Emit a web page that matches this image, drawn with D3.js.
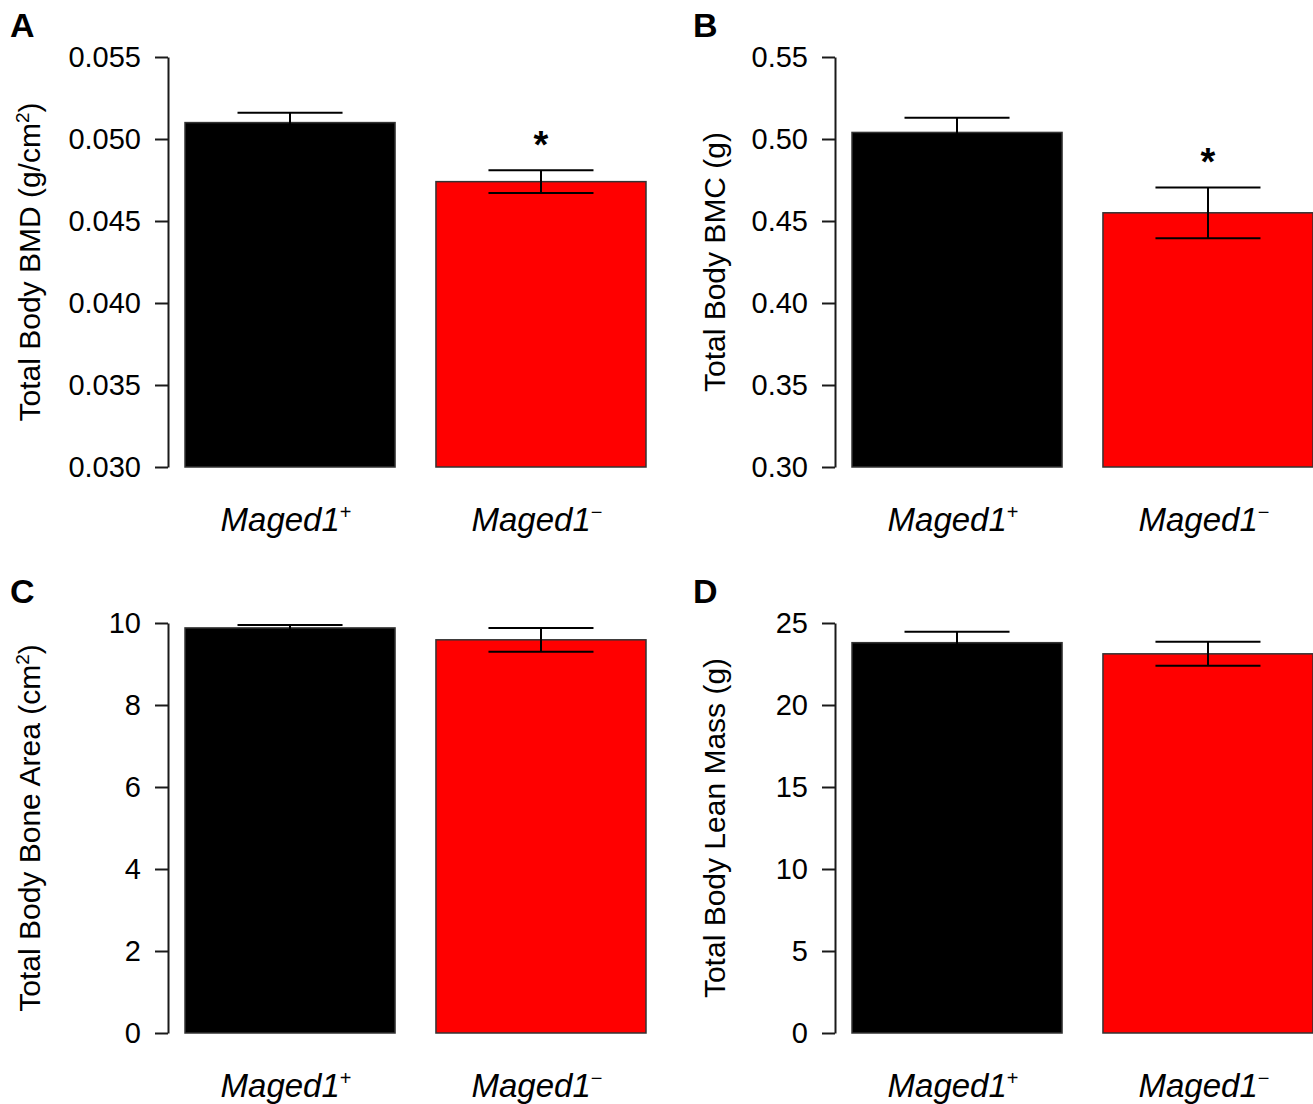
<!DOCTYPE html>
<html>
<head>
<meta charset="utf-8">
<script src="https://cdn.jsdelivr.net/npm/d3@7"></script>
<style>
  body { margin: 0; background: #fff; }
  svg { font-family: "Liberation Sans", Arial, Helvetica, sans-serif; }
</style>
</head>
<body>
<svg id="fig" width="1313" height="1104"></svg>
<script>
// groups (same for every panel)
const groups = ["Maged1+", "Maged1-"];
const groupSup = ["+", "\u2212"];
const groupColors = ["#000000", "#ff0000"];

// panel values
const panelLetters = ["A", "B", "C", "D"];
const yTitles = ["Total Body BMD (g/cm", "Total Body BMC (g)", "Total Body Bone Area (cm", "Total Body Lean Mass (g)"];
const yTitleSup = ["2", "", "2", ""];
const yTitleTail = [")", "", ")", ""];
const yDomains = [[0.030, 0.055], [0.30, 0.55], [0, 10], [0, 25]];
const yTicks = [
  [0.030, 0.035, 0.040, 0.045, 0.050, 0.055],
  [0.30, 0.35, 0.40, 0.45, 0.50, 0.55],
  [0, 2, 4, 6, 8, 10],
  [0, 5, 10, 15, 20, 25]
];
const tickFormats = [".3f", ".2f", "d", "d"];
const meansPlus = [0.0510, 0.504, 9.88, 23.8];
const meansMinus = [0.0474, 0.455, 9.59, 23.12];
const sePlus = [0.0006, 0.009, 0.07, 0.67];
const seMinus = [0.0007, 0.0155, 0.29, 0.73];
const signif = [true, true, false, false]; // asterisk on the Maged1- bar

const svg = d3.select("#fig");
const axisX = [168, 835, 168, 835];
const topY = [57, 57, 623, 623];
const titleX = [40, 725, 40, 725];
const plotH = 410;

panelLetters.forEach((letter, i) => {
  const g = svg.append("g").attr("transform", `translate(${axisX[i]},${topY[i]})`);

  const y = d3.scaleLinear().domain(yDomains[i]).range([plotH, 0]);
  const x = d3.scaleBand().domain(groups).range([17, 478]).paddingInner(0.163);

  // y axis
  const yAxis = d3.axisLeft(y).tickValues(yTicks[i]).tickFormat(d3.format(tickFormats[i]))
    .tickSizeInner(13).tickSizeOuter(0).tickPadding(14);
  const ax = g.append("g").call(yAxis);
  ax.select(".domain").attr("stroke", "#1a1a1a").attr("stroke-width", 2);
  ax.selectAll(".tick line").attr("stroke", "#1a1a1a").attr("stroke-width", 2);
  ax.selectAll(".tick text").attr("font-size", 29).attr("fill", "#000")
    .attr("font-family", "'Liberation Sans', Arial, sans-serif");

  const means = [meansPlus[i], meansMinus[i]];
  const ses = [sePlus[i], seMinus[i]];

  // bars
  g.selectAll("rect.bar").data(groups).join("rect")
    .attr("class", "bar")
    .attr("x", d => x(d))
    .attr("width", x.bandwidth())
    .attr("y", (d, k) => y(means[k]))
    .attr("height", (d, k) => plotH - y(means[k]))
    .attr("fill", (d, k) => groupColors[k])
    .attr("stroke", "#333")
    .attr("stroke-width", 1.5);

  // error bars
  const capW = x.bandwidth() / 2;
  groups.forEach((grp, k) => {
    const cx = x(grp) + x.bandwidth() / 2;
    const hi = y(means[k] + ses[k]);
    const lo = y(means[k] - ses[k]);
    const eg = g.append("g").attr("stroke", "#000").attr("stroke-width", 2);
    eg.append("line").attr("x1", cx).attr("x2", cx).attr("y1", hi).attr("y2", lo);
    eg.append("line").attr("x1", cx - capW / 2).attr("x2", cx + capW / 2).attr("y1", hi).attr("y2", hi);
    eg.append("line").attr("x1", cx - capW / 2).attr("x2", cx + capW / 2).attr("y1", lo).attr("y2", lo);
    if (k === 1 && signif[i]) {
      g.append("text").attr("x", cx).attr("y", hi - 12)
        .attr("text-anchor", "middle").attr("font-size", 38).attr("font-weight", "bold")
        .text("*");
    }
  });

  // category labels
  groups.forEach((grp, k) => {
    const t = g.append("text")
      .attr("x", x(grp) + x.bandwidth() / 2 - 4)
      .attr("y", plotH + 64)
      .attr("text-anchor", "middle")
      .attr("font-size", 33)
      .attr("font-style", "italic");
    t.append("tspan").text("Maged1");
    t.append("tspan").attr("font-size", 20).attr("dy", -12).attr("font-style", "normal").text(groupSup[k]);
  });

  // y title
  const tt = g.append("text")
    .attr("transform", `translate(${titleX[i] - axisX[i]},${plotH / 2}) rotate(-90)`)
    .attr("text-anchor", "middle")
    .attr("font-size", 30);
  tt.append("tspan").text(yTitles[i]);
  if (yTitleSup[i]) {
    tt.append("tspan").attr("font-size", 19).attr("dy", -11).text(yTitleSup[i]);
    tt.append("tspan").attr("dy", 11).text(yTitleTail[i]);
  }

  // panel letter
  svg.append("text")
    .attr("x", [10, 693, 10, 693][i])
    .attr("y", topY[i] - 20)
    .attr("font-size", 34).attr("font-weight", "bold")
    .text(letter);
});
</script>
</body>
</html>
